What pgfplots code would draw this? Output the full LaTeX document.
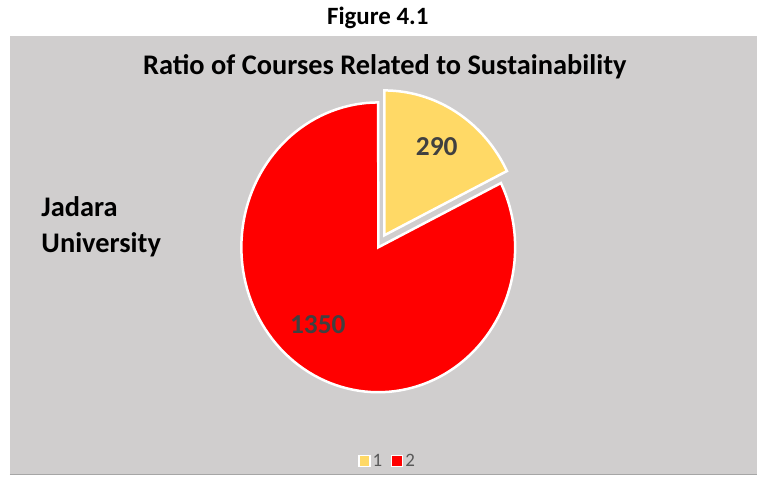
\documentclass[border=0pt]{standalone}
\usepackage{pgfplots}
\usepackage{pgfplotstable}
\pgfplotsset{compat=1.18}
\usepackage{fontspec}
\setmainfont{Carlito}
\definecolor{bg}{HTML}{D0CECE}
\definecolor{pieYellow}{HTML}{FFD966}
\definecolor{pieRed}{HTML}{FF0000}
\definecolor{lbl}{HTML}{404040}
\definecolor{legtxt}{HTML}{595959}
\pgfplotstableread{
label value
1 290
2 1350
}\piedata
\pgfplotstablegetelem{0}{value}\of\piedata \let\vA\pgfplotsretval
\pgfplotstablegetelem{1}{value}\of\piedata \let\vB\pgfplotsretval
\pgfmathsetmacro{\tot}{\vA+\vB}
\pgfmathsetmacro{\fA}{\vA/\tot}
\pgfmathsetmacro{\fB}{\vB/\tot}
\pgfmathsetmacro{\aEnd}{90-360*\fA}
\pgfmathsetmacro{\bEnd}{\aEnd-360*\fB}
\begin{document}
\begin{tikzpicture}
\begin{axis}[
  scale only axis, width=757bp, height=482bp,
  xmin=0, xmax=757, ymin=0, ymax=482,
  axis lines=none, clip=false,
  legend columns=2,
  legend style={at={(axis cs:388,21)}, anchor=center, draw=none, fill=none,
    font=\fontsize{19}{20}\selectfont\color{legtxt},
    /tikz/every even column/.append style={column sep=7bp}},
]
% background panel
\fill[white] (axis cs:0,0) rectangle (axis cs:757,482);
\fill[bg] (axis cs:10,7) rectangle (axis cs:757,446);
\draw[gray!70, line width=1bp] (axis cs:10,7) -- (axis cs:757,7);
% pie slices
\addplot[forget plot, fill=pieRed, draw=white, line width=2.5bp, domain=\bEnd:\aEnd, samples=120, variable=\t]
  ({378.5+137*cos(\t)},{234.5+145*sin(\t)}) -- (axis cs:378.5,234.5) -- cycle;
\addplot[forget plot, fill=pieYellow, draw=white, line width=2.5bp, domain=\aEnd:90, samples=60, variable=\t]
  ({384.5+137*cos(\t)},{246.5+145*sin(\t)}) -- (axis cs:384.5,246.5) -- cycle;
\addlegendimage{legend image code/.code={\filldraw[fill=pieYellow, draw=white, line width=1.2bp] (0bp,-5.5bp) rectangle (11bp,5.5bp);}}
\addlegendentry{1}
\addlegendimage{legend image code/.code={\filldraw[fill=pieRed, draw=white, line width=1.2bp] (0bp,-5.5bp) rectangle (11bp,5.5bp);}}
\addlegendentry{2}
% labels
\node[font=\fontsize{27.5}{30}\selectfont\bfseries, text=lbl] at (axis cs:437,335) {290};
\node[font=\fontsize{27.5}{30}\selectfont\bfseries, text=lbl] at (axis cs:318,157) {1350};
\node[font=\fontsize{25}{27}\selectfont\bfseries] at (axis cs:378,464) {Figure 4.1};
\node[font=\fontsize{28.5}{30}\selectfont\bfseries] at (axis cs:385,415) {Ratio of Courses Related to Sustainability};
\node[font=\fontsize{28.5}{37}\selectfont\bfseries, align=left, anchor=west] at (axis cs:38,255) {Jadara\\University};
\end{axis}
\end{tikzpicture}
\end{document}
